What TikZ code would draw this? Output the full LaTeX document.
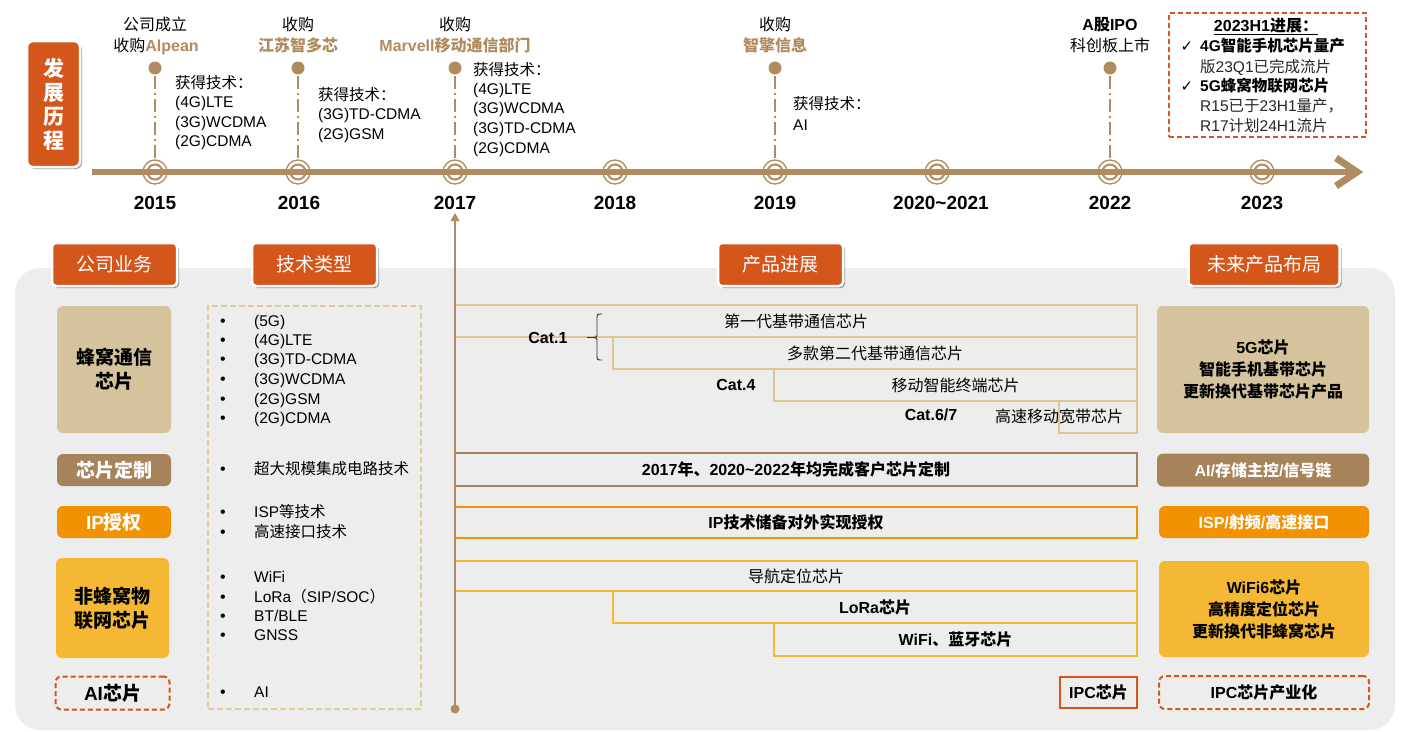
\documentclass[tikz,border=0pt]{standalone}
\usepackage{fontspec}
\setmainfont{Liberation Sans}
\newfontfamily\zhf{Noto Sans CJK SC}
\newfontfamily\symf{DejaVu Sans}
\usetikzlibrary{shadows}
\XeTeXinterchartokenstate=1
\newXeTeXintercharclass\CJKcls
\newcount\mycnt
\mycnt="3000 \loop \XeTeXcharclass\mycnt=\CJKcls \advance\mycnt by 1 \ifnum\mycnt<"3040 \repeat
\mycnt="4E00 \loop \XeTeXcharclass\mycnt=\CJKcls \advance\mycnt by 1 \ifnum\mycnt<"A000 \repeat
\mycnt="FF00 \loop \XeTeXcharclass\mycnt=\CJKcls \advance\mycnt by 1 \ifnum\mycnt<"FFF0 \repeat
\XeTeXinterchartoks 0 \CJKcls = {\begingroup\zhf}
\XeTeXinterchartoks 4095 \CJKcls = {\begingroup\zhf}
\XeTeXinterchartoks \CJKcls 0 = {\endgroup}
\XeTeXinterchartoks \CJKcls 4095 = {\endgroup}
\definecolor{cOR}{HTML}{D4561B}
\definecolor{cTan}{HTML}{B08B5F}
\definecolor{cLT}{HTML}{D4C39D}
\definecolor{cBrown}{HTML}{A7835C}
\definecolor{cOrange}{HTML}{F39200}
\definecolor{cYellow}{HTML}{F4B834}
\definecolor{cPanel}{HTML}{EDEDED}
\definecolor{cBarTan}{HTML}{DCC794}
\definecolor{cDash}{HTML}{DDCB9F}
\begin{document}
\begin{tikzpicture}[x=1pt,y=-1pt,
  tab/.style={fill=cOR, draw=white, line width=2.5pt, rounded corners=4pt, minimum height=43pt, text=white,
    font=\fontsize{19}{21}\selectfont, inner sep=0pt,
    drop shadow={shadow xshift=2pt, shadow yshift=-2pt, opacity=0.35, fill=black}},
  lbox/.style={rounded corners=6pt, inner sep=0pt, align=center, font=\fontsize{19}{24}\selectfont\bfseries},
  rbox/.style={rounded corners=6pt, inner sep=0pt, align=center, font=\fontsize{16}{22}\selectfont\bfseries},
  bar/.style={draw, line width=1.6pt, inner sep=0pt, font=\fontsize{16}{18}\selectfont},
  tag/.style={inner sep=0pt, text height=11pt, text depth=0pt, anchor=west, font=\fontsize{15.5}{18}\selectfont},
  ctag/.style={inner sep=0pt, text height=11pt, text depth=0pt, font=\fontsize{16}{18}\selectfont},
  yr/.style={inner sep=0pt, text height=13pt, text depth=0pt, font=\fontsize{19}{21}\selectfont\bfseries},
  dsh/.style={dash pattern=on 5pt off 3pt, line width=2pt},
]
\useasboundingbox (0,0) rectangle (1410,731);

% panel
\fill[cPanel, rounded corners=25pt] (15,268) rectangle (1395,730);

% 发展历程
\node[fill=cOR, draw=white, line width=2.5pt, rounded corners=6pt, minimum width=53pt, minimum height=126pt,
  inner sep=0pt, text=white, align=center, font=\fontsize{21}{24}\selectfont\bfseries,
  drop shadow={shadow xshift=2pt, shadow yshift=-2pt, opacity=0.35, fill=black}] (fz) at (53.5,104) {发\\展\\历\\程};

% timeline
\coordinate (tlS) at (92,172);
\coordinate (tlE) at (1352,172);
\draw[cTan, line width=6.5pt] (tlS) -- (tlE);
\draw[cTan, line width=7pt, miter limit=10] (1336,158) -- (1357,172) -- (1336,186);

\foreach \x/\yr/\lx [count=\i] in {155/2015/155, 298/2016/299, 455/2017/455, 615/2018/615, 775/2019/775, 937/2020\textasciitilde 2021/941, 1110/2022/1110, 1262/2023/1262} {
  \draw[cTan, line width=1.3pt] (\x,172) circle[radius=12];
  \draw[cTan, line width=2pt] (\x,172) circle[radius=7.5];
  \node[yr] (yr\i) at (\lx,203) {\yr};
}

\foreach \x [count=\i] in {155,298,455,775,1110} {
  \coordinate (ev\i) at (\x,68);
  \fill[cTan] (ev\i) circle[radius=6.5];
  \draw[cTan, line width=1.8pt, dash pattern=on 13pt off 4pt on 2pt off 4pt] (\x,76) -- (\x,160);
}

% event labels
\node[ctag] (e1a) at (155,25) {公司成立};
\node[ctag] (e1b) at (156,46) {收购{\color{cTan}\bfseries Alpean}};
\node[ctag] (e2a) at (298,25) {收购};
\node[ctag, text=cTan, font=\fontsize{16}{18}\selectfont\bfseries] (e2b) at (298,46) {江苏智多芯};
\node[ctag] (e3a) at (455,25) {收购};
\node[ctag, text=cTan, font=\fontsize{16}{18}\selectfont\bfseries] (e3b) at (455,46) {Marvell移动通信部门};
\node[ctag] (e4a) at (775,25) {收购};
\node[ctag, text=cTan, font=\fontsize{16}{18}\selectfont\bfseries] (e4b) at (775,46) {智擎信息};
\node[ctag, font=\fontsize{16}{18}\selectfont\bfseries] (e5a) at (1110,25) {A股IPO};
\node[ctag] (e5b) at (1110,46) {科创板上市};

% technology lists
\foreach \yy/\t [count=\i] in {83/获得技术：, 102/(4G)LTE, 122/(3G)WCDMA, 141/(2G)CDMA}
  \node[tag] (ta\i) at (175,\yy) {\t};
\foreach \yy/\t [count=\i] in {95/获得技术：, 114/(3G)TD-CDMA, 134/(2G)GSM}
  \node[tag] (tb\i) at (318,\yy) {\t};
\foreach \yy/\t [count=\i] in {70/获得技术：, 89/(4G)LTE, 108/(3G)WCDMA, 128/(3G)TD-CDMA, 148/(2G)CDMA}
  \node[tag] (tc\i) at (473,\yy) {\t};
\foreach \yy/\t [count=\i] in {104/获得技术：, 125/AI}
  \node[tag] (td\i) at (793,\yy) {\t};

% 2023H1 box
\node[draw=cOR, dsh, minimum width=197pt, minimum height=124pt, inner sep=0pt] (h23) at (1267.5,75) {};
\node[ctag, font=\fontsize{16}{18}\selectfont\bfseries] (t23) at (1266,26) {2023H1进展：};
\draw[line width=1.2pt] ([yshift=-3pt]t23.south west) -- ([yshift=-3pt]t23.south east);
\node[ctag, font=\fontsize{15}{16}\selectfont\symf\bfseries] (ck1) at (1187,46) {✓};
\node[ctag, font=\fontsize{15}{16}\selectfont\symf\bfseries] (ck2) at (1187,86) {✓};
\node[tag, font=\fontsize{15.5}{18}\selectfont\bfseries] (p1) at (1200,46) {4G智能手机芯片量产};
\node[tag, text=black!85] (p2) at (1200,67) {版23Q1已完成流片};
\node[tag, font=\fontsize{15.5}{18}\selectfont\bfseries] (p3) at (1200,86) {5G蜂窝物联网芯片};
\node[tag, text=black!85] (p4) at (1200,106) {R15已于23H1量产，};
\node[tag, text=black!85] (p5) at (1200,126) {R17计划24H1流片};

% header tabs
\node[tab, minimum width=125pt] (h1) at (114.5,264.5) {公司业务};
\node[tab, minimum width=125pt] (h2) at (314.5,264.5) {技术类型};
\node[tab, minimum width=125pt] (h3) at (780.5,264.5) {产品进展};
\node[tab, minimum width=151pt] (h4) at (1264,264.5) {未来产品布局};

% left column
\node[lbox, fill=cLT, minimum width=114pt, minimum height=127pt] (l1) at (114,369.5) {蜂窝通信\\芯片};
\node[lbox, fill=cBrown, text=white, minimum width=114pt, minimum height=32pt] (l2) at (114,470) {芯片定制};
\node[lbox, fill=cOrange, text=white, minimum width=114pt, minimum height=32pt] (l3) at (114,522) {IP授权};
\node[lbox, fill=cYellow, minimum width=113pt, minimum height=100pt] (l4) at (112.5,608) {非蜂窝物\\联网芯片};
\node[lbox, draw=cOR, dsh, minimum width=114pt, minimum height=33pt] (l5) at (112.5,693) {AI芯片};

% technology box
\node[draw=cDash, dash pattern=on 6pt off 3pt, line width=2pt, minimum width=213pt, minimum height=403pt, inner sep=0pt] (tk) at (314.5,507.5) {};
\foreach \yy/\t [count=\i] in {321/(5G), 340/(4G)LTE, 359/(3G)TD-CDMA, 379/(3G)WCDMA, 399/(2G)GSM, 418/(2G)CDMA,
    469/超大规模集成电路技术, 512/ISP等技术, 532/高速接口技术, 577/WiFi, 597/{LoRa（SIP/SOC）}, 616/{BT/BLE}, 635/GNSS, 692/AI} {
  \node[ctag] (bu\i) at (223,\yy) {•};
  \node[tag] (tt\i) at (254,\yy) {\t};
}

% product bars
\node[bar, draw=cBarTan, minimum width=682pt, minimum height=32pt] (b1) at (796,321) {第一代基带通信芯片};
\node[bar, draw=cBarTan, minimum width=524pt, minimum height=32pt] (b2) at (875,353) {多款第二代基带通信芯片};
\node[bar, draw=cBarTan, minimum width=363pt, minimum height=32pt] (b3) at (955.5,385) {移动智能终端芯片};
\node[bar, draw=cBarTan, minimum width=78pt, minimum height=32pt] (b4) at (1098,417) {};
\node[ctag] (b4t) at (1059,417) {高速移动宽带芯片};
\node[bar, draw=cBrown, line width=2pt, minimum width=682pt, minimum height=33pt, font=\fontsize{16}{18}\selectfont\bfseries] (b5) at (796,469.5) {2017年、2020\textasciitilde 2022年均完成客户芯片定制};
\node[bar, draw=cOrange, line width=2pt, minimum width=682pt, minimum height=31pt, font=\fontsize{16}{18}\selectfont\bfseries] (b6) at (796,522.5) {IP技术储备对外实现授权};
\node[bar, draw=cYellow, line width=2pt, minimum width=682pt, minimum height=30pt] (b7) at (796,576) {导航定位芯片};
\node[bar, draw=cYellow, line width=2pt, minimum width=524pt, minimum height=32pt, font=\fontsize{16}{18}\selectfont\bfseries] (b8) at (875,607) {LoRa芯片};
\node[bar, draw=cYellow, line width=2pt, minimum width=363pt, minimum height=33pt, font=\fontsize{16}{18}\selectfont\bfseries] (b9) at (955.5,639.5) {WiFi、蓝牙芯片};
\node[bar, draw=cOR, line width=2pt, minimum width=77pt, minimum height=31pt, font=\fontsize{16}{18}\selectfont\bfseries] (b10) at (1098.5,692.5) {IPC芯片};

% Cat labels and brace
\node[ctag, font=\fontsize{16}{18}\selectfont\bfseries] (c1) at (548,338) {Cat.1};
\node[ctag, font=\fontsize{16}{18}\selectfont\bfseries] (c4) at (736,385) {Cat.4};
\node[ctag, font=\fontsize{16}{18}\selectfont\bfseries] (c6) at (931,415) {Cat.6/7};
\draw[black!80, line width=0.9pt] (602,314) .. controls (597,314) .. (597,319) -- (597,333)
  .. controls (597,337) .. (593,337.5) .. controls (597,338) .. (597,342) -- (597,355)
  .. controls (597,360) .. (602,360);
\draw[black!80, line width=0.9pt] (587,337.5) -- (593,337.5);

% 2017 vertical line
\coordinate (vT) at (455,219);
\coordinate (vB) at (455,709);
\draw[cTan, line width=2.5pt] (vT) -- (vB);
\fill[cTan] (450.5,221) -- (455,213) -- (459.5,221) -- cycle;
\fill[cTan] (vB) circle[radius=4.5];

% right column
\node[rbox, fill=cLT, minimum width=212pt, minimum height=127pt] (r1) at (1263,369.5) {5G芯片\\智能手机基带芯片\\更新换代基带芯片产品};
\node[rbox, fill=cBrown, text=white, minimum width=212pt, minimum height=33pt] (r2) at (1263,470) {AI/存储主控/信号链};
\node[rbox, fill=cOrange, text=white, minimum width=210pt, minimum height=32pt] (r3) at (1264,522) {ISP/射频/高速接口};
\node[rbox, fill=cYellow, minimum width=210pt, minimum height=96pt] (r4) at (1264,609) {WiFi6芯片\\高精度定位芯片\\更新换代非蜂窝芯片};
\node[rbox, draw=cOR, dsh, minimum width=210pt, minimum height=33pt] (r5) at (1264,692.5) {IPC芯片产业化};
\end{tikzpicture}
\end{document}
